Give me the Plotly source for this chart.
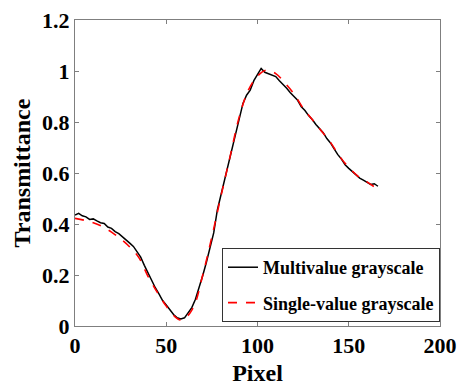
import plotly.graph_objects as go

# Multivalue grayscale (black, noisy)
x_multi = list(range(0, 168, 2))
y_multi = [0.435, 0.442, 0.432, 0.428, 0.418, 0.420, 0.412, 0.405, 0.402, 0.388,
           0.383, 0.370, 0.362, 0.350, 0.340, 0.325, 0.312, 0.292, 0.270, 0.238,
           0.208, 0.178, 0.150, 0.126, 0.100, 0.082, 0.062, 0.045, 0.032, 0.028,
           0.032, 0.050, 0.072, 0.105, 0.148, 0.198, 0.250, 0.305, 0.365, 0.455,
           0.515, 0.580, 0.640, 0.695, 0.755, 0.820, 0.872, 0.905, 0.925, 0.962,
           0.985, 1.010, 0.995, 0.990, 0.982, 0.978, 0.962, 0.948, 0.932, 0.915,
           0.900, 0.885, 0.860, 0.845, 0.825, 0.810, 0.790, 0.772, 0.758, 0.735,
           0.718, 0.695, 0.672, 0.655, 0.632, 0.618, 0.605, 0.592, 0.580, 0.572,
           0.563, 0.555, 0.558, 0.548]

# Single-value grayscale (red, smooth)
x_single = [0, 5, 10, 15, 20, 25, 30, 35, 40, 45, 50, 55, 57.5, 60, 65, 70, 75, 80,
            85, 90, 95, 100, 105, 110, 115, 120, 125, 130, 135, 140, 145, 150, 155,
            160, 165]
y_single = [0.422, 0.415, 0.405, 0.390, 0.368, 0.342, 0.310, 0.268, 0.195, 0.133,
            0.078, 0.035, 0.024, 0.028, 0.075, 0.200, 0.350, 0.510, 0.665, 0.820,
            0.925, 0.980, 1.004, 0.990, 0.953, 0.910, 0.854, 0.810, 0.765, 0.720,
            0.665, 0.622, 0.588, 0.565, 0.541]

x_ticks = [0, 50, 100, 150, 200]
y_ticks = [0, 0.2, 0.4, 0.6, 0.8, 1.0, 1.2]
y_tick_labels = ["0", "0.2", "0.4", "0.6", "0.8", "1", "1.2"]

FONT = "Liberation Serif"

fig = go.Figure()
fig.add_trace(go.Scatter(x=x_multi, y=y_multi, mode="lines",
                         name="<b>Multivalue grayscale</b>", legendgroup="a",
                         line=dict(color="black", width=1.5)))
fig.add_trace(go.Scatter(x=x_single, y=y_single, mode="lines", line_shape="spline",
                         name="<b>Single-value grayscale</b>", legendgroup="b",
                         line=dict(color="#ff0000", width=1.6, dash="dash")))

axis_common = dict(showline=True, linecolor="#7f7f7f", linewidth=1, mirror="ticks",
                   ticks="inside", ticklen=4, tickcolor="#7f7f7f", showgrid=False,
                   zeroline=False, automargin=False,
                   tickfont=dict(family=FONT, size=22, color="black"))

fig.update_layout(
    width=457, height=387,
    margin=dict(l=75, r=17, t=20, b=61),
    paper_bgcolor="white", plot_bgcolor="white",
    font=dict(family=FONT, color="black"),
    xaxis=dict(range=[0, 200], tickvals=x_ticks, ticktext=[f"<b>{v}</b>" for v in x_ticks],
               title=dict(text="<b>Pixel</b>", font=dict(family=FONT, size=24), standoff=6),
               **axis_common),
    yaxis=dict(range=[0, 1.2], tickvals=y_ticks, ticktext=[f"<b>{t}</b>" for t in y_tick_labels],
               title=dict(text="<b>Transmittance</b>", font=dict(family=FONT, size=24), standoff=4),
               **axis_common),
    legend=dict(x=1, y=0.013, xanchor="right", yanchor="bottom",
                bgcolor="white", bordercolor="#333333", borderwidth=1,
                font=dict(family=FONT, size=18, color="black"),
                tracegroupgap=9, itemwidth=30),
    showlegend=True,
)

fig.write_html("out.html", config={"displayModeBar": False},
               post_script="document.body.style.margin='0';")
